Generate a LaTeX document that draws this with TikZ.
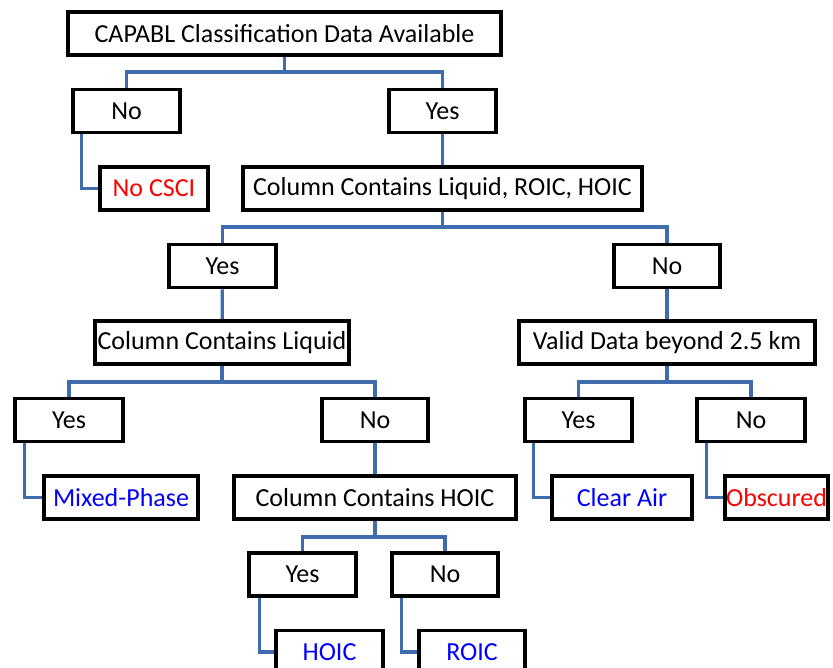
\documentclass[tikz,border=0pt]{standalone}
\usepackage{fontspec}
\setmainfont{Carlito}
\usepackage{tikz}
\usetikzlibrary{backgrounds}

\definecolor{linkblue}{RGB}{62,108,172}
\definecolor{leafred}{RGB}{255,0,0}
\definecolor{leafblue}{RGB}{0,0,255}

\tikzset{
  box/.style={draw, line width=3.6pt, fill=white, inner sep=0pt,
    minimum height=43pt, font=\fontsize{26}{30}\selectfont},
  link/.style={draw=linkblue, line width=3.2pt},
  redleaf/.style={box, text=leafred},
  blueleaf/.style={box, text=leafblue}
}

\begin{document}
\begin{tikzpicture}[x=1pt, y=-1pt]
  \useasboundingbox (0,0) rectangle (833,668);

  % first split
  \node[box, minimum width=433pt] (capabl) at (284.5,33.5) {CAPABL Classification Data Available};
  \node[box, minimum width=107pt] (no1) at (126.5,111) {No};
  \node[box, minimum width=107pt] (yes1) at (442.5,111) {Yes};
  \node[redleaf, minimum width=108pt] (nocsci) at (154,188.5) {No CSCI};
  \node[box, minimum width=399pt] (allphase) at (442.5,188.5) {Column Contains Liquid, ROIC, HOIC};

  % second split
  \node[box, minimum width=107pt] (yes2) at (222.5,266) {Yes};
  \node[box, minimum width=106pt] (no2) at (667,266) {No};
  \node[box, minimum width=254pt] (liquid) at (222,342.5) {Column Contains Liquid};
  \node[box, minimum width=296pt] (valid) at (667,342.5) {Valid Data beyond 2.5 km};

  % third split
  \node[box, minimum width=108pt] (yes3) at (69,420) {Yes};
  \node[box, minimum width=106pt] (no3) at (375,420) {No};
  \node[box, minimum width=107pt] (yes4) at (578.5,420) {Yes};
  \node[box, minimum width=108pt] (no4) at (751,420) {No};
  \node[blueleaf, minimum width=154pt] (mixed) at (121,497.5) {Mixed-Phase};
  \node[box, minimum width=282pt] (hoiccol) at (375,497.5) {Column Contains HOIC};
  \node[blueleaf, minimum width=140pt] (clear) at (622,497.5) {Clear Air};
  \node[redleaf, minimum width=103pt] (obscured) at (776.5,497.5) {Obscured};

  % last split
  \node[box, minimum width=107pt] (yes5) at (302.5,574.5) {Yes};
  \node[box, minimum width=106pt] (no5) at (445,574.5) {No};
  \node[blueleaf, minimum width=107pt] (hoic) at (329.5,652) {HOIC};
  \node[blueleaf, minimum width=106pt] (roic) at (472,652) {ROIC};

  \coordinate (f1) at (284.5,72);
  \coordinate (f2) at (442.5,227);
  \coordinate (f3) at (222,382);
  \coordinate (f4) at (667,382);
  \coordinate (f5) at (375,537);

  \begin{scope}[on background layer]
    \draw[link] (capabl) -- (f1);
    \draw[link] (no1.north) |- (f1) -| (yes1.north);
    \draw[link] ([xshift=10pt]no1.south west) |- (nocsci.west);
    \draw[link] (yes1) -- (allphase);
    \draw[link] (allphase) -- (f2);
    \draw[link] (yes2.north) |- (f2) -| (no2.north);
    \draw[link] (yes2) -- (liquid);
    \draw[link] (no2) -- (valid);
    \draw[link] (liquid) -- (f3);
    \draw[link] (yes3.north) |- (f3) -| (no3.north);
    \draw[link] (valid) -- (f4);
    \draw[link] (yes4.north) |- (f4) -| (no4.north);
    \draw[link] ([xshift=11pt]yes3.south west) |- (mixed.west);
    \draw[link] (no3) -- (hoiccol);
    \draw[link] ([xshift=10pt]yes4.south west) |- (clear.west);
    \draw[link] ([xshift=11pt]no4.south west) |- (obscured.west);
    \draw[link] (hoiccol) -- (f5);
    \draw[link] (yes5.north) |- (f5) -| (no5.north);
    \draw[link] ([xshift=12pt]yes5.south west) |- (hoic.west);
    \draw[link] ([xshift=11pt]no5.south west) |- (roic.west);
  \end{scope}
\end{tikzpicture}
\end{document}
